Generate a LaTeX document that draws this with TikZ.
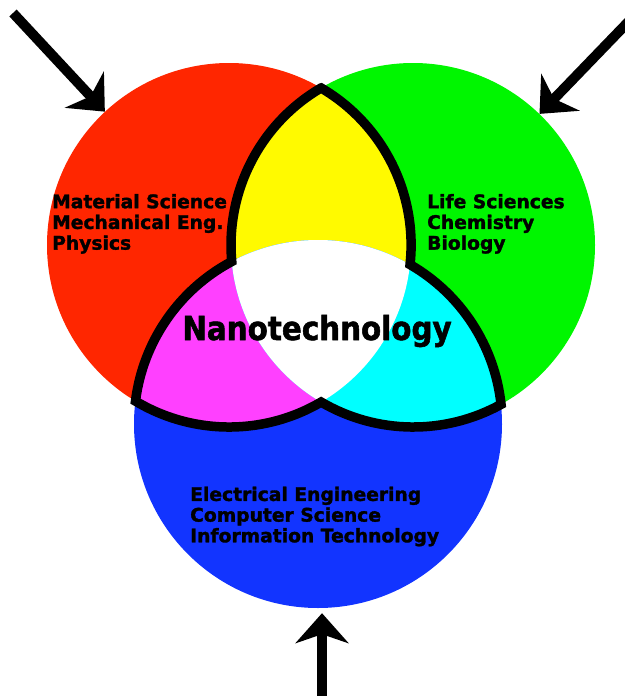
\documentclass[tikz,border=0pt]{standalone}
\usepackage{fontspec}
\setmainfont{DejaVu Sans}
\newfontfamily\labelfont[BoldFeatures={FakeBold=1.6}]{DejaVu Sans}
\newfontfamily\nanofont[BoldFeatures={FakeBold=1.6, FakeStretch=0.89}]{DejaVu Sans}
\usepackage{tikz}
\usetikzlibrary{arrows.meta}
\definecolor{scarlet}{RGB}{255, 38, 0}
\definecolor{lime}{RGB}{0, 246, 0}
\definecolor{royal}{RGB}{18, 52, 255}
\definecolor{lemon}{RGB}{255, 250, 0}
\definecolor{orchid}{RGB}{255, 64, 255}
\definecolor{aqua}{RGB}{0, 255, 255}

\begin{document}
\begin{tikzpicture}[x=1pt, y=-1pt,
        field/.style={circle, inner sep=0pt, minimum size=364pt},
        pointer/.style={line width=10pt, -{Stealth[length=30pt, width=53pt, inset=9pt]}},
        subjects/.style={anchor=north west, inner sep=0pt, align=left,
                         font=\labelfont\bfseries\fontsize{18.7}{20.7}\selectfont}]
            \useasboundingbox (0,0) rectangle (624,696);
            % the three fields
            \node[field, fill=scarlet]                    (material)   at (229.0, 245.0) {};
            \node[field, fill=lime]                       (life)       at (413.0, 245.0) {};
            \node[field, fill=royal, minimum size=368pt]  (electrical) at (318.0, 424.0) {};
            % overlaps
            \begin{scope}
                \clip (material.center) circle[radius=182];
                \fill[lemon]  (life.center)       circle[radius=182];
                \fill[orchid] (electrical.center) circle[radius=184];
            \end{scope}
            \begin{scope}
                \clip (life.center) circle[radius=182];
                \fill[aqua]   (electrical.center) circle[radius=184];
            \end{scope}
            \begin{scope}
                \clip (material.center) circle[radius=182];
                \clip (life.center)     circle[radius=182];
                \fill[white]  (electrical.center) circle[radius=184];
            \end{scope}
            % outline of the overlaps
            \coordinate (cusp) at (321.0, 88.0);
            \draw[line width=9.5pt] (cusp)
                 arc[start angle=239.63, end angle=174.80, radius=182]
                 arc[start angle=242.03, end angle=187.15, radius=184]
                 arc[start angle=120.95, end angle= 59.63, radius=182]
                 arc[start angle=120.37, end angle= 61.11, radius=182]
                 arc[start angle= -6.11, end angle=-60.02, radius=184]
                 arc[start angle=  6.18, end angle=-59.63, radius=182] -- cycle;
            % texts
            \node[subjects] (materialtext)   at ( 52.0, 193.8) {Material Science\\Mechanical Eng.\\Physics};
            \node[subjects] (lifetext)       at (427.0, 193.8) {Life Sciences\\Chemistry\\Biology};
            \node[subjects] (electricaltext) at (190.0, 486.5) {Electrical Engineering\\Computer Science\\Information Technology};
            \node[anchor=base, inner sep=0pt, font=\nanofont\bfseries\fontsize{33}{36}\selectfont]
                 (nano) at (317.0, 340.0) {Nanotechnology};
            % arrows
            \coordinate (materialtail)   at ( 13.0,  13.0);
            \coordinate (lifetail)       at (633.0,  17.0);
            \coordinate (electricaltail) at (322.0, 700.0);
            \draw[pointer] (materialtail) -- (material);
            \draw[pointer] (lifetail) -- (life);
            \draw[pointer, shorten >=5pt] (electricaltail) -- (electricaltail |- electrical.south);
        \end{tikzpicture}
\end{document}
